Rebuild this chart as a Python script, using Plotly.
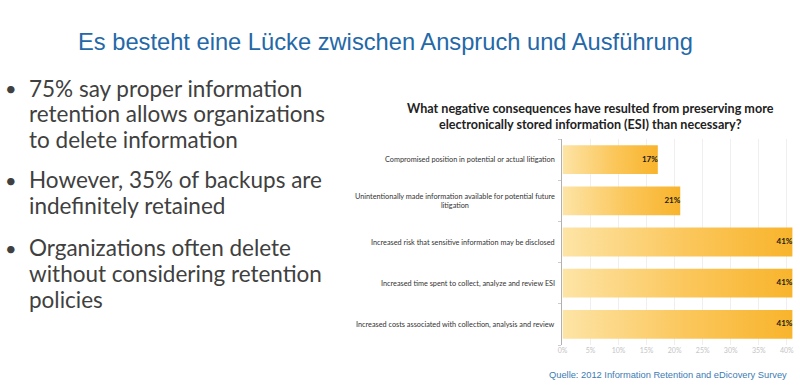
import plotly.graph_objects as go

# ---- data ----
categories = [
    "Compromised position in potential or actual litigation",
    "Unintentionally made information available for potential future<br>litigation",
    "Increased risk that sensitive information may be disclosed",
    "Increased time spent to collect, analyze and review ESI",
    "Increased costs associated with collection, analysis and review",
]
values = [17, 21, 41, 41, 41]
x_ticks = [0, 5, 10, 15, 20, 25, 30, 35, 40]
x_ticklabels = [f"{t}%" for t in x_ticks]

slide_title = "Es besteht eine Lücke zwischen Anspruch und Ausführung"
chart_title = ("What negative consequences have resulted from preserving more<br>"
               "electronically stored information (ESI) than necessary?")
source_text = "Quelle: 2012 Information Retention and eDicovery Survey"
bullets = [
    ["75% say proper information", "retention allows organizations", "to delete information"],
    ["However, 35% of backups are", "indefinitely retained"],
    ["Organizations often delete", "without considering retention", "policies"],
]

W, H = 800, 387
fig = go.Figure()

half = 0.35
for i, v in enumerate(values):
    fig.add_trace(go.Scatter(
        x=[0, v, v, 0, 0],
        y=[i - half, i - half, i + half, i + half, i - half],
        mode="lines", line=dict(width=0),
        fill="toself",
        fillgradient=dict(type="horizontal",
                          colorscale=[[0, "#fde4a6"], [0.55, "#fbc65a"], [1, "#f8b42c"]]),
        hoverinfo="skip", showlegend=False,
    ))

fig.add_trace(go.Scatter(
    x=values, y=list(range(len(values))), mode="text",
    text=[f"<b>{v}%</b>" for v in values], textposition="middle left",
    textfont=dict(family="Lato", size=8, color="#1a1a1a"),
    showlegend=False, hoverinfo="skip",
))

x0px, x1px = 561, 798
ytop, ybot = 139, 345
fig.update_layout(
    width=W, height=H, margin=dict(l=0, r=0, t=0, b=0),
    paper_bgcolor="white", plot_bgcolor="white",
    xaxis=dict(domain=[x0px / W, x1px / W], range=[0, 42],
               tickvals=x_ticks, ticktext=x_ticklabels,
               tickfont=dict(family="Lato", size=7, color="#c4c4c4"),
               showgrid=True, gridcolor="#efefef", gridwidth=1,
               zeroline=False, showline=False, ticks=""),
    yaxis=dict(domain=[1 - ybot / H, 1 - ytop / H], range=[4.5, -0.5],
               tickvals=list(range(len(categories))), showticklabels=False,
               showgrid=False, zeroline=False, showline=True,
               linecolor="#b0b0b0", linewidth=1, ticks="",
               minor=dict(tickvals=[-0.5, 0.5, 1.5, 2.5, 3.5, 4.5], ticks="outside",
                          ticklen=3, tickcolor="#cccccc")),
)

ann = []
# category labels (centered multi-line, right edge next to the axis)
for i, c in enumerate(categories):
    ann.append(dict(text=c, x=555 / W, y=i, xref="paper", yref="y",
                    xanchor="right", yanchor="middle", align="center", showarrow=False,
                    font=dict(family="Lato", size=7.3, color="#333333")))
ann.append(dict(text=slide_title, x=71 / W, y=1 - 42 / H, xref="paper", yref="paper",
                xanchor="left", yanchor="middle", showarrow=False,
                font=dict(family="Liberation Sans", size=23.7, color="#2468a8")))
ann.append(dict(text=f"<b>{chart_title}</b>", x=589 / W, y=1 - 116.5 / H,
                xref="paper", yref="paper", xanchor="center", yanchor="middle",
                align="center", showarrow=False,
                font=dict(family="Lato", size=12.6, color="#222222")))
ann.append(dict(text=source_text, x=789 / W, y=1 - 375 / H, xref="paper", yref="paper",
                xanchor="right", yanchor="middle", showarrow=False,
                font=dict(family="Liberation Sans", size=9.3, color="#3c7bb3")))
block_tops = [88, 180, 248]
for b, lines in enumerate(bullets):
    ann.append(dict(text="•", x=6 / W, y=1 - block_tops[b] / H, xref="paper", yref="paper",
                    xanchor="center", yanchor="middle", showarrow=False,
                    font=dict(family="Lato", size=20, color="#404040")))
    for k, line in enumerate(lines):
        ann.append(dict(text=line, x=22 / W, y=1 - (block_tops[b] + 25.5 * k) / H,
                        xref="paper", yref="paper", xanchor="left", yanchor="middle",
                        showarrow=False, font=dict(family="Lato", size=22.5, color="#404040")))
fig.update_layout(annotations=ann)

fig.write_html("out.html")
